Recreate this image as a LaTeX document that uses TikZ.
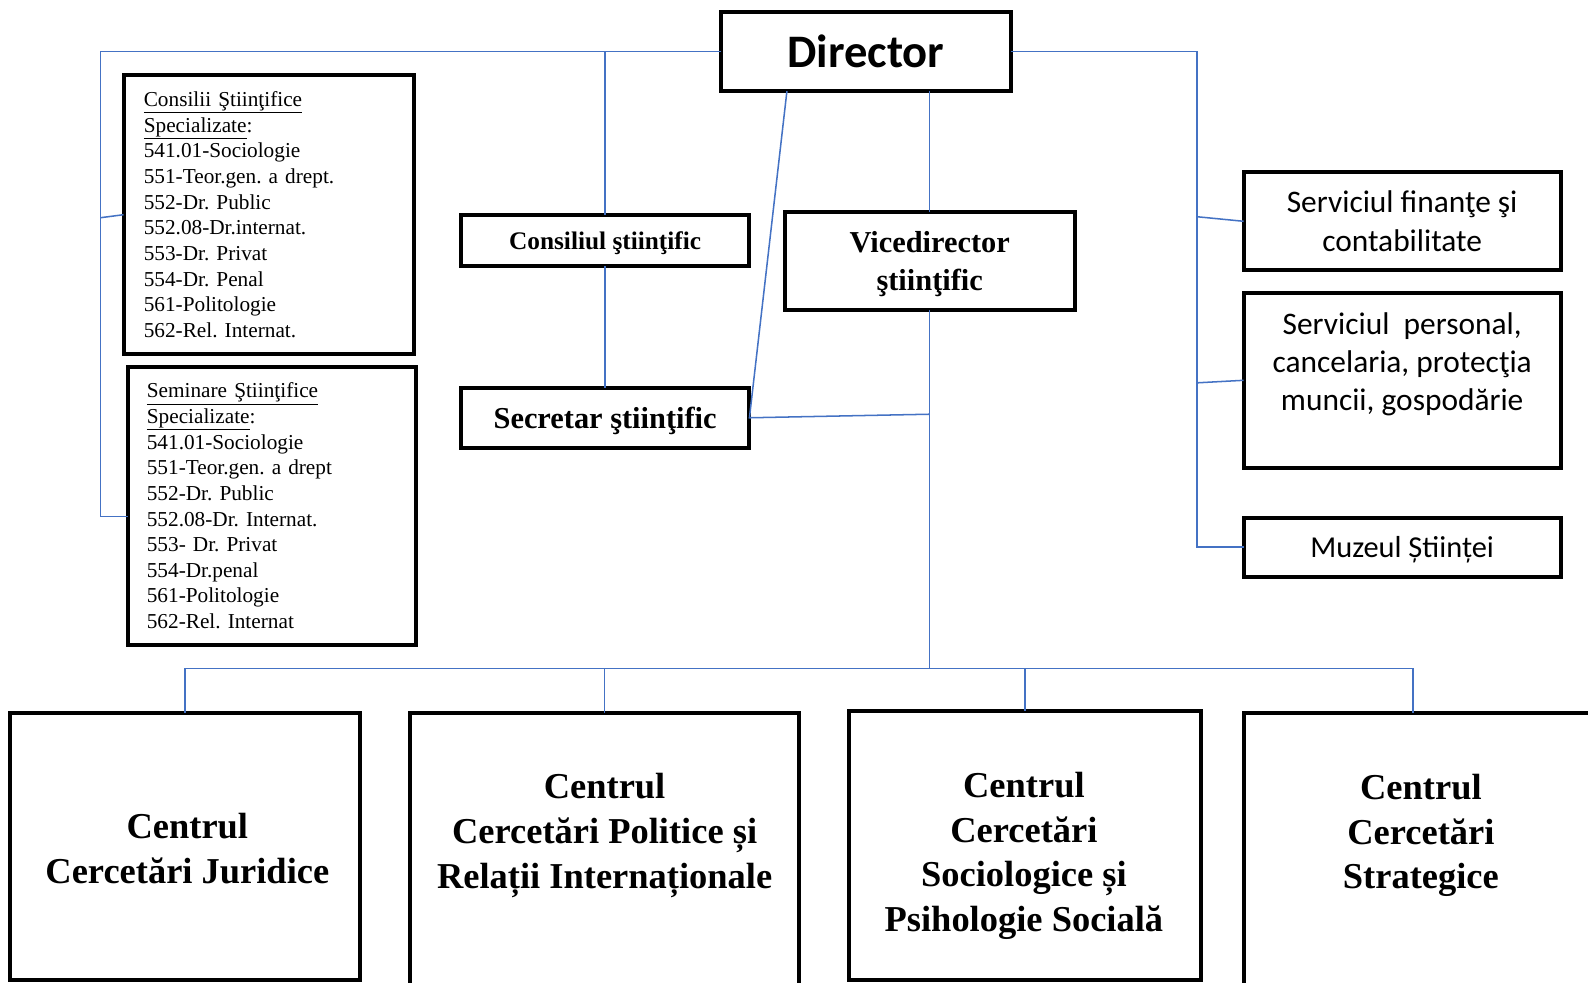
\documentclass[tikz,border=0pt]{standalone}
\usepackage{fontspec}
\setmainfont{Liberation Serif}
\newfontfamily\calib{Carlito}
\definecolor{lnblue}{HTML}{4472C4}
\frenchspacing
\begin{document}
\begin{tikzpicture}[x=1pt,y=-1pt,
  box/.style={draw=black,line width=4pt,rectangle,inner sep=0pt,outer sep=0pt,fill=white,align=center},
  conn/.style={draw=lnblue,line width=1.5pt},
  listbox/.style={box,align=left,inner xsep=20pt,font=\frenchspacing\fontsize{21}{25.3}\selectfont},
  sbox/.style={box,text depth=0pt,font=\bfseries\fontsize{30}{38}\selectfont},
  rbox/.style={box,font=\calib\fontsize{31}{38}\selectfont},
  ctext/.style={align=center,inner sep=0pt,font=\bfseries\fontsize{36}{44}\selectfont}]
\path[use as bounding box] (0,0) rectangle (1568,970);
\clip (0,0) rectangle (1568,970);
\fill[white] (0,0) rectangle (1568,970);

% boxes
\node[box,minimum width=286pt,minimum height=78pt,font=\calib\bfseries\fontsize{46}{50}\selectfont] (dir) at (855,51) {Director};

\node[listbox,text width=247pt,minimum height=276pt] (cons) at (265.5,212)
 {\underline{Consilii Ştiinţifice}\\ \underline{Specializate}:\\ 541.01-Sociologie\\ 551-Teor.gen. a drept.\\ 552-Dr. Public\\ 552.08-Dr.internat.\\ 553-Dr. Privat\\ 554-Dr. Penal\\ 561-Politologie\\ 562-Rel. Internat.};

\node[listbox,inner xsep=19pt,text width=247pt,minimum height=275pt] (sem) at (268.5,499.5)
 {\underline{Seminare Ştiinţifice}\\ \underline{Specializate}:\\ 541.01-Sociologie\\ 551-Teor.gen. a drept\\ 552-Dr. Public\\ 552.08-Dr. Internat.\\ 553- Dr. Privat\\ 554-Dr.penal\\ 561-Politologie\\ 562-Rel. Internat};

\node[box,text depth=0pt,minimum width=285pt,minimum height=51pt,font=\bfseries\fontsize{25}{30}\selectfont] (cs) at (597.5,237.5) {Consiliul ştiinţific};
\node[sbox,minimum width=285pt,minimum height=59pt] (sec) at (597.5,412.5) {Secretar ştiinţific};
\node[sbox,minimum width=286pt,minimum height=97pt] (vice) at (918,257.5) {Vicedirector\\ştiinţific};

\node[rbox,minimum width=313pt,minimum height=97pt] (r1) at (1384.5,218.5) {Serviciul finanţe şi\\contabilitate};
\node[rbox,minimum width=313pt,minimum height=173pt] (r2) at (1384.5,375.5) {};
\node[align=center,inner sep=0pt,font=\calib\fontsize{31}{37.5}\selectfont] (r2t) at (1384.5,360) {Serviciul\ \ personal,\\cancelaria, protecţia\\muncii, gospodărie};
\node[box,text depth=0pt,minimum width=313pt,minimum height=59pt,font=\calib\fontsize{30}{36}\selectfont] (r3) at (1384.5,540.5) {Muzeul Științei};

\node[box,minimum width=345pt,minimum height=264pt] (b1) at (182.5,836) {};
\node[ctext] (b1t) at (185,838) {Centrul\\Cercetări Juridice};
\node[box,minimum width=384pt,minimum height=320pt] (b2) at (597,864) {};
\node[ctext] (b2t) at (597,825) {Centrul\\Cercetări Politice și\\Relații Internaționale};
\node[box,minimum width=348pt,minimum height=266pt] (b3) at (1012,835) {};
\node[ctext] (b3t) at (1011,845) {Centrul\\Cercetări\\Sociologice și\\Psihologie Socială};
\node[box,minimum width=400pt,minimum height=320pt] (b4) at (1428,864) {};
\node[ctext] (b4t) at (1403,825) {Centrul\\Cercetări\\Strategice};

% bend points
\coordinate (lt) at (99,51);
\coordinate (lm) at (99,215);
\coordinate (lb) at (99,510);
\coordinate (rt) at (1182,51);
\coordinate (rm1) at (1182,214);
\coordinate (rm2) at (1182,378);
\coordinate (rb) at (1182,540);
\coordinate (sj) at (918,409);
\coordinate (bus) at (918,660);
\coordinate (d4) at ([xshift=-33pt]b4.north);

% connectors
\draw[conn] (dir.west) -- (lt) -- (lb) -- (lb -| sem.west);
\draw[conn] (lm) -- (cons.west);
\draw[conn] (dir.west -| cs.north) -- (cs.north);
\draw[conn] (cs.south) -- (sec.north);
\draw[conn] ([xshift=65pt]dir.south west) -- (sec.east) -- (sj);
\draw[conn] (dir.south -| vice.north) -- (vice.north);
\draw[conn] (vice.south) -- (bus);
\draw[conn] (b1.north) -- (b1.north |- bus) -- (bus -| d4) -- (d4);
\draw[conn] (b2.north |- bus) -- (b2.north);
\draw[conn] (b3.north |- bus) -- (b3.north);
\draw[conn] (dir.east) -- (rt) -- (rb) -- (rb -| r3.west);
\draw[conn] (rm1) -- (r1.west);
\draw[conn] (rm2) -- (r2.west);
\end{tikzpicture}
\end{document}
